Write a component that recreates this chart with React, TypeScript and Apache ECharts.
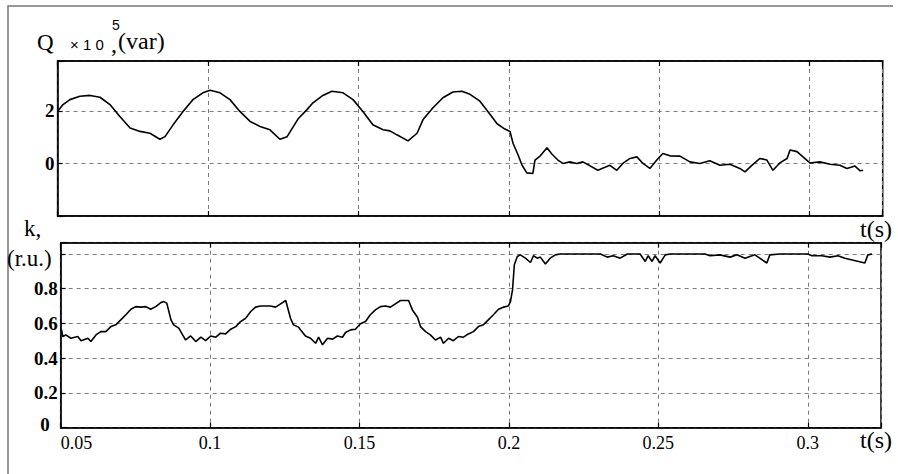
import React, { useEffect, useRef } from "react";
import * as echarts from "echarts";

// Time axis ticks (s)
const xTicks = [0.05, 0.1, 0.15, 0.2, 0.25, 0.3];
const qTickLabels = [0, 2];
const kTickLabels = [0.2, 0.4, 0.6, 0.8];

// Top panel: reactive power Q (x10^5 var)
const tQ = [
  0.05, 0.0518, 0.0541, 0.0574, 0.0608, 0.0641, 0.0674, 0.0707, 0.0741, 0.0774,
  0.0807, 0.084, 0.0857, 0.0884, 0.0917, 0.095, 0.0983, 0.1007, 0.104, 0.1073,
  0.1106, 0.114, 0.1173, 0.1206, 0.1239, 0.1263, 0.1299, 0.1329, 0.1349, 0.1382,
  0.1412, 0.1449, 0.1482, 0.1515, 0.1548, 0.1582, 0.1605, 0.1628, 0.1665, 0.1695,
  0.1715, 0.1748, 0.1781, 0.1814, 0.1844, 0.1871, 0.1904, 0.1938, 0.1961, 0.1987,
  0.2004, 0.2014, 0.2031, 0.2044, 0.206, 0.208, 0.2087, 0.2104, 0.2127, 0.2143,
  0.2163, 0.218, 0.2203, 0.2226, 0.2246, 0.227, 0.2296, 0.2336, 0.2359, 0.2379,
  0.2403, 0.2426, 0.2446, 0.2469, 0.2492, 0.2512, 0.2536, 0.2569, 0.2602, 0.2635,
  0.2668, 0.2702, 0.2735, 0.2768, 0.2785, 0.2808, 0.2835, 0.2858, 0.2878, 0.2901,
  0.2925, 0.2935, 0.2958, 0.2978, 0.3001, 0.3034, 0.3068, 0.3101, 0.3124, 0.3151,
  0.3168, 0.3178,
];
const qVals = [
  1.98, 2.24, 2.43, 2.56, 2.59, 2.52, 2.24, 1.79, 1.35, 1.22,
  1.15, 0.92, 1.02, 1.47, 1.98, 2.43, 2.69, 2.79, 2.69, 2.43,
  1.98, 1.6, 1.41, 1.28, 0.92, 1.02, 1.69, 2.05, 2.31, 2.59,
  2.75, 2.69, 2.43, 1.98, 1.47, 1.28, 1.24, 1.09, 0.86, 1.15,
  1.67, 2.12, 2.5, 2.72, 2.75, 2.63, 2.37, 1.86, 1.51, 1.31,
  1.22, 0.77, 0.32, -0.07, -0.36, -0.38, 0.13, 0.28, 0.6, 0.36,
  0.13, 0.0, 0.06, 0.0, 0.06, -0.09, -0.26, -0.07, -0.26, 0.0,
  0.19, 0.25, 0.0, -0.19, 0.13, 0.38, 0.29, 0.28, 0.06, 0.0,
  0.1, -0.07, -0.03, -0.19, -0.32, -0.07, 0.19, 0.13, -0.26, 0.02,
  0.19, 0.51, 0.45, 0.25, 0.02, 0.06, -0.03, -0.07, -0.19, -0.1,
  -0.28, -0.26,
];

// Bottom panel: k (r.u.)
const tK = [
  0.0503, 0.0507, 0.0517, 0.0534, 0.0557, 0.0568, 0.0591, 0.0601, 0.0618, 0.0634,
  0.0651, 0.0668, 0.0684, 0.0701, 0.0718, 0.0735, 0.0751, 0.0768, 0.0785, 0.0801,
  0.0818, 0.0835, 0.0845, 0.0855, 0.0869, 0.0878, 0.0895, 0.0908, 0.0918, 0.0935,
  0.0952, 0.0969, 0.0985, 0.1002, 0.1019, 0.1035, 0.1052, 0.1069, 0.1086, 0.1102,
  0.1119, 0.1136, 0.1152, 0.1169, 0.1202, 0.1219, 0.1236, 0.1253, 0.1269, 0.1279,
  0.1296, 0.1303, 0.1319, 0.1336, 0.1353, 0.1363, 0.1376, 0.1393, 0.141, 0.1426,
  0.1443, 0.1453, 0.147, 0.1486, 0.1503, 0.152, 0.1536, 0.1553, 0.157, 0.1587,
  0.1603, 0.162, 0.1637, 0.1664, 0.1677, 0.1694, 0.1704, 0.1721, 0.1737, 0.1754,
  0.1771, 0.1781, 0.1798, 0.1814, 0.1831, 0.1848, 0.1864, 0.1881, 0.1898, 0.1914,
  0.1931, 0.1948, 0.1965, 0.1981, 0.1998, 0.2005, 0.2012, 0.2018, 0.2028, 0.2038,
  0.2055, 0.2072, 0.2082, 0.2095, 0.2105, 0.2122, 0.2138, 0.2155, 0.2172, 0.2306,
  0.2329, 0.2349, 0.2372, 0.2396, 0.2439, 0.2456, 0.2466, 0.2479, 0.2489, 0.2506,
  0.2523, 0.254, 0.2656, 0.2673, 0.2706, 0.274, 0.2763, 0.279, 0.2806, 0.2823,
  0.2863, 0.2873, 0.2907, 0.3, 0.3014, 0.3047, 0.3074, 0.3101, 0.3124, 0.3191,
  0.3201, 0.3215,
];
const kVals = [
  0.563, 0.525, 0.534, 0.515, 0.525, 0.5, 0.515, 0.496, 0.534, 0.553,
  0.553, 0.582, 0.592, 0.621, 0.65, 0.682, 0.697, 0.694, 0.697, 0.682,
  0.697, 0.72, 0.726, 0.717, 0.621, 0.592, 0.573, 0.534, 0.505, 0.528,
  0.496, 0.521, 0.501, 0.528, 0.521, 0.544, 0.54, 0.567, 0.582, 0.611,
  0.63, 0.669, 0.694, 0.701, 0.701, 0.694, 0.713, 0.732, 0.63, 0.592,
  0.579, 0.563, 0.528, 0.515, 0.486, 0.521, 0.477, 0.515, 0.51, 0.528,
  0.521, 0.548, 0.563, 0.567, 0.598, 0.611, 0.65, 0.678, 0.697, 0.701,
  0.694, 0.713, 0.732, 0.732, 0.678, 0.636, 0.582, 0.553, 0.534, 0.505,
  0.521, 0.486, 0.515, 0.501, 0.525, 0.521, 0.54, 0.553, 0.582, 0.592,
  0.621, 0.65, 0.682, 0.694, 0.701, 0.726, 0.794, 0.938, 0.986, 0.995,
  0.976, 0.951, 0.99, 0.976, 0.982, 0.942, 0.976, 0.995, 1.0, 1.0,
  0.982, 0.99, 0.976, 1.0, 1.0, 0.957, 0.99, 0.957, 0.99, 0.948,
  0.995, 1.0, 1.0, 0.99, 0.995, 0.982, 0.995, 0.976, 0.986, 0.995,
  0.948, 0.995, 1.0, 1.0, 0.99, 0.99, 0.982, 0.99, 0.976, 0.948,
  0.995, 1.0,
];

const SERIF = "Liberation Serif";
const SANS = "Liberation Sans";

const near = (list: number[], v: number) => list.some((t) => Math.abs(t - v) < 1e-6);

export default function App() {
  const ref = useRef<HTMLDivElement>(null);

  useEffect(() => {
    document.body.style.margin = "0";
    const chart = echarts.init(ref.current as HTMLDivElement, null, { renderer: "svg" });

    const gridLine = { show: true, lineStyle: { color: "#7a7a7a", type: [4, 4] as any, width: 1 } };
    const axisLine = { show: true, onZero: false, lineStyle: { color: "#000", width: 1.5 } };
    const tick = { show: true, inside: true, length: 5, lineStyle: { color: "#000", width: 1.2 } };

    const xBase = (gridIndex: number, max: number) => ({
      type: "value",
      gridIndex,
      min: 0.05,
      max,
      interval: 0.05,
      axisLine,
      axisTick: tick,
    });

    const option: any = {
      animation: false,
      backgroundColor: "#fff",
      textStyle: { fontFamily: SERIF },
      grid: [
        { left: 57.6, top: 61, width: 825.1, height: 155, show: true, borderColor: "#000", borderWidth: 1.5 },
        { left: 60.7, top: 242.7, width: 820.3, height: 185, show: true, borderColor: "#000", borderWidth: 1.5 },
      ],
      xAxis: [
        { ...xBase(0, 0.3243), axisLabel: { show: false }, splitLine: gridLine },
        { ...xBase(0, 0.3243), position: "top", axisLabel: { show: false }, splitLine: { show: false } },
        {
          ...xBase(1, 0.3245),
          splitLine: gridLine,
          axisLabel: {
            show: true,
            margin: 6,
            color: "#000",
            fontFamily: SERIF,
            fontSize: 18,
            alignMinLabel: "left",
            formatter: (v: number) => (near(xTicks, v) ? String(+v.toFixed(2)) : ""),
          },
        },
        { ...xBase(1, 0.3245), position: "top", axisLabel: { show: false }, splitLine: { show: false } },
      ],
      yAxis: [
        {
          type: "value",
          gridIndex: 0,
          min: -2,
          max: 3.9,
          interval: 2,
          axisLine,
          axisTick: tick,
          splitLine: gridLine,
          axisLabel: {
            margin: 3,
            color: "#000",
            fontFamily: SERIF,
            fontWeight: "bold",
            fontSize: 19,
            formatter: (v: number) => (near(qTickLabels, v) ? String(Math.round(v)) : ""),
          },
        },
        {
          type: "value",
          gridIndex: 1,
          min: 0,
          max: 1.065,
          interval: 0.2,
          axisLine,
          axisTick: tick,
          splitLine: gridLine,
          axisLabel: {
            margin: 3,
            color: "#000",
            fontFamily: SERIF,
            fontWeight: "bold",
            fontSize: 19,
            formatter: (v: number) => {
              if (Math.abs(v) < 1e-6) return "{z|0}";
              return near(kTickLabels, v) ? v.toFixed(1) : "";
            },
            rich: {
              z: { fontFamily: SERIF, fontWeight: "bold", fontSize: 19, color: "#000", padding: [0, 8, 6, 0] },
            },
          },
        },
      ],
      series: [
        {
          type: "line",
          xAxisIndex: 0,
          yAxisIndex: 0,
          showSymbol: false,
          data: tQ.map((t, i) => [t, qVals[i]]),
          lineStyle: { color: "#000", width: 1.6 },
        },
        {
          type: "line",
          xAxisIndex: 2,
          yAxisIndex: 1,
          showSymbol: false,
          data: tK.map((t, i) => [t, kVals[i]]),
          lineStyle: { color: "#000", width: 1.6 },
        },
      ],
      graphic: [
        { type: "polyline", shape: { points: [[8, 474], [8, 6], [893, 6]] }, style: { stroke: "#777", lineWidth: 1.5, fill: "none" } },
        { type: "text", x: 37, y: 42, style: { text: "Q", font: `23px ${SERIF}`, fill: "#000", verticalAlign: "middle" } },
        { type: "text", x: 70, y: 44, style: { text: "× 1 0", font: `15px ${SANS}`, fill: "#000", verticalAlign: "middle" } },
        { type: "text", x: 112, y: 25, style: { text: "5", font: `14px ${SANS}`, lineHeight: 12, fill: "#000", verticalAlign: "middle" } },
        { type: "text", x: 111, y: 44, style: { text: ",", font: `24px ${SERIF}`, lineHeight: 14, fill: "#000", verticalAlign: "middle" } },
        { type: "text", x: 118, y: 41, style: { text: "(var)", font: `24px ${SERIF}`, fill: "#000", verticalAlign: "middle" } },
        { type: "text", x: 24, y: 228, style: { text: "k,", font: `23px ${SERIF}`, fill: "#000", verticalAlign: "middle" } },
        { type: "text", x: 7, y: 258, style: { text: "(r.u.)", font: `23px ${SERIF}`, fill: "#000", verticalAlign: "middle" } },
        { type: "text", x: 860, y: 229, style: { text: "t(s)", font: `24px ${SERIF}`, fill: "#000", verticalAlign: "middle" } },
        { type: "text", x: 860, y: 440, style: { text: "t(s)", font: `24px ${SERIF}`, fill: "#000", verticalAlign: "middle" } },
      ],
    };

    chart.setOption(option);
    return () => chart.dispose();
  }, []);

  return <div ref={ref} style={{ width: 898, height: 474 }} />;
}
